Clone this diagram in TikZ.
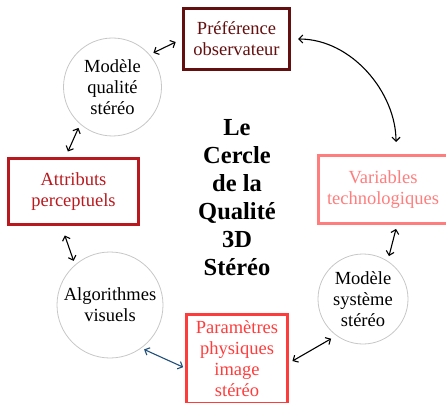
\documentclass[tikz,border=0pt]{standalone}
\usepackage{fontspec}
\setmainfont{Liberation Serif}
\usetikzlibrary{arrows.meta}
\definecolor{prefred}{RGB}{100,15,15}
\definecolor{attrred}{RGB}{185,25,30}
\definecolor{varpink}{RGB}{255,125,125}
\definecolor{paramred}{RGB}{255,60,60}
\definecolor{linkblue}{RGB}{31,78,121}
\begin{document}
\begin{tikzpicture}[x=1pt,y=-1pt,
  every node/.style={font=\fontsize{18.5}{21}\selectfont, align=center},
  rbox/.style={draw, line width=3pt, inner sep=0pt},
  rond/.style={circle, draw=black!22, line width=0.8pt, inner sep=0pt},
  lien/.style={<->, >={Straight Barb[length=4pt,width=8pt]}, line width=1.1pt, shorten <=4pt, shorten >=4pt}]
\useasboundingbox (0,0) rectangle (446,403);
% boites
\node[rbox, draw=prefred, text=prefred, minimum width=106pt, minimum height=61pt] (pref) at (236.5,39) {Préférence\\observateur};
\node[rbox, draw=attrred, text=attrred, minimum width=130pt, minimum height=66pt] (attr) at (73.5,191.5) {Attributs\\perceptuels};
\node[rbox, draw=varpink, text=varpink, minimum width=129pt, minimum height=68pt] (var) at (383,189.5) {Variables\\technologiques};
\node[rbox, draw=paramred, text=paramred, minimum width=101pt, minimum height=89pt] (param) at (237,359) {Paramètres\\physiques\\image\\stéréo};
% cercles
\node[rond, minimum size=98pt] (mqual) at (112.5,87) {Modèle\\qualité\\stéréo};
\node[rond, minimum size=106pt] (algo) at (110,305) {Algorithmes\\visuels};
\node[rond, minimum size=90pt] (msys) at (363,299) {Modèle\\système\\stéréo};
% titre
\node[font=\fontsize{24.5}{28}\selectfont\bfseries] (titre) at (237,197.5) {Le\\Cercle\\de la\\Qualité\\3D\\Stéréo};
% liens
\draw[lien, shorten >=7pt] (mqual.41) -- (pref.west);
\draw[lien, shorten <=7pt, shorten >=12pt] (pref.east) to[out=0, in=90] ([xshift=13pt]var.north);
\draw[lien, shorten >=6pt] (mqual.229) -- ([xshift=-8pt]attr.south |- attr.north);
\draw[lien, shorten <=10pt] ([xshift=-12pt]attr.south) -- (algo.131);
\draw[lien, draw=linkblue, shorten <=3pt, shorten >=2pt] (algo.306) -- ([yshift=-9pt]param.west);
\draw[lien, shorten <=4pt, shorten >=6pt] ([yshift=-4pt]param.east) -- (msys.234);
\draw[lien, shorten <=5pt] (msys.57) -- ([xshift=14pt]var.south);
\end{tikzpicture}
\end{document}
